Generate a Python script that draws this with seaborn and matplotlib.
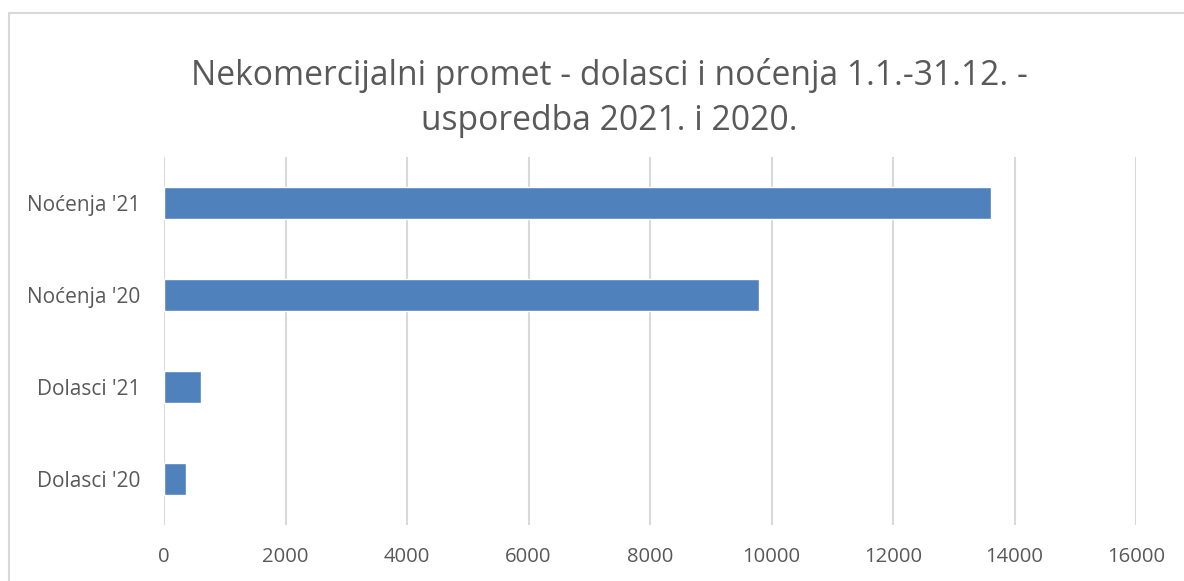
import matplotlib
matplotlib.use("Agg")
import matplotlib.pyplot as plt
import seaborn as sns
import pandas as pd
from matplotlib.patches import Rectangle

# data
categories = ["Noćenja '21", "Noćenja '20", "Dolasci '21", "Dolasci '20"]
values = [13620, 9800, 605, 360]
x_ticks = [0, 2000, 4000, 6000, 8000, 10000, 12000, 14000, 16000]

df = pd.DataFrame({"kategorija": categories, "broj": values})

sns.set_theme(style="white")
plt.rcParams["font.family"] = ["Open Sans", "DejaVu Sans"]

text_col = "#595959"
grid_col = "#D9D9D9"

fig = plt.figure(figsize=(11.84, 5.81), dpi=100)
ax = fig.add_axes([164 / 1184, 1 - 525 / 581, (1136 - 164) / 1184, 368 / 581])

sns.barplot(data=df, x="broj", y="kategorija", order=categories,
            color="#4F81BD", saturation=1, width=0.35, ax=ax, zorder=3)

ax.set_xlim(0, 16000)
ax.set_ylim(3.5, -0.5)
ax.set_xticks(x_ticks)
ax.set_xticklabels([str(t) for t in x_ticks])
ax.grid(axis="x", color=grid_col, linewidth=1.5, zorder=0)
ax.grid(axis="y", visible=False)
ax.set_axisbelow(True)
for s in ax.spines.values():
    s.set_visible(False)
ax.tick_params(axis="y", length=0, pad=17, labelsize=15, labelcolor=text_col)
ax.tick_params(axis="x", length=0, pad=16, labelsize=14.6, labelcolor=text_col)
ax.set_xlabel("")
ax.set_ylabel("")

fig.text(0.515, 1 - 98 / 581, "Nekomercijalni promet - dolasci i noćenja 1.1.-31.12. -\nusporedba 2021. i 2020.",
         ha="center", va="center", fontsize=24.2, color=text_col, linespacing=1.4)

# chart area border
fig.patches.append(Rectangle((9 / 1184, -0.05), 1.2, 1 - 13 / 581 + 0.05,
                             transform=fig.transFigure, fill=False,
                             edgecolor=grid_col, linewidth=1.5))

fig.savefig("out.png", dpi=100)
